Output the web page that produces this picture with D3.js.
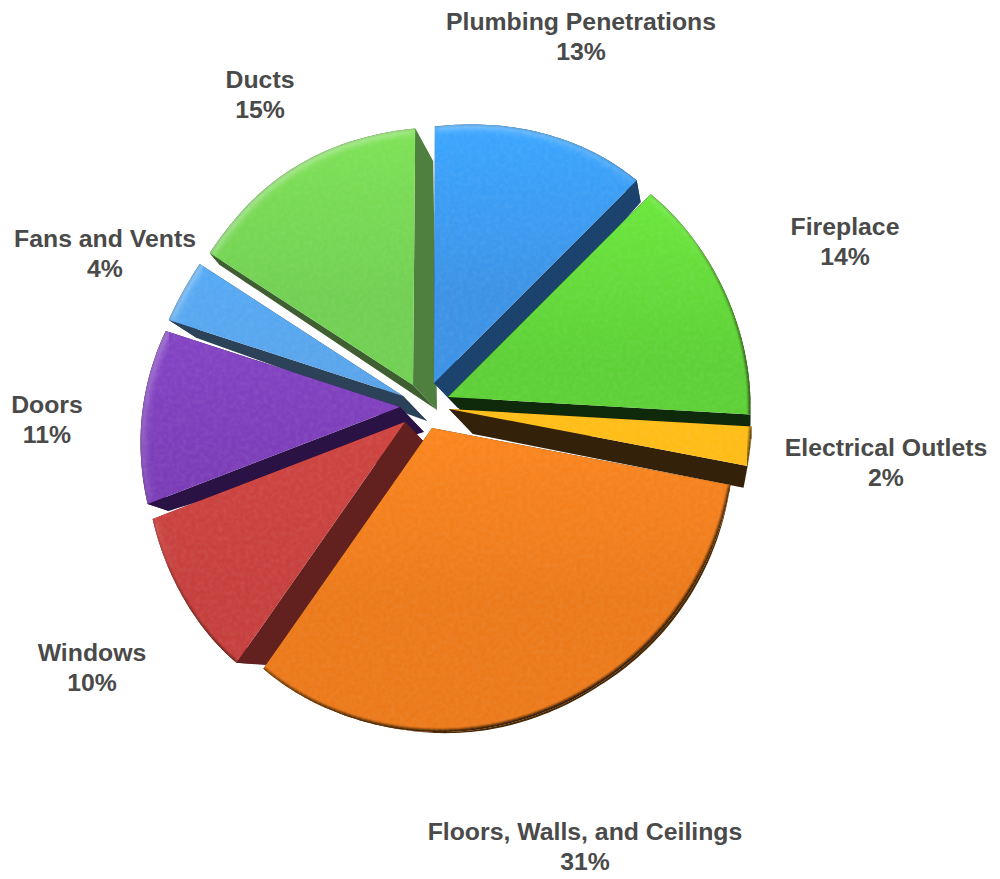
<!DOCTYPE html>
<html><head><meta charset="utf-8">
<script src="https://cdn.jsdelivr.net/npm/d3@7"></script>
<style>html,body{margin:0;padding:0;background:#fff}svg{display:block}</style>
</head><body><svg id="c" width="1000" height="879"></svg>
<script>
const categories=["Plumbing Penetrations","Fireplace","Electrical Outlets","Floors, Walls, and Ceilings","Windows","Doors","Fans and Vents","Ducts"];
const shares=[13,14,2,31,10,11,4,15];
const topColors=["#3d93e6","#5ed037","#fdb714","#ec7a1b","#c6403e","#7a3cb6","#5da2e6","#72d053"];
const topLights=["#3aa6ff","#6be83c","#ffbe18","#fb861f","#cf4441","#8444c4","#55aaf5","#7ee256"];
const wallColors=["#1c426e","#0f2a0b","#33210a","#4a2a06","#62201f","#2a1245","#2c4258","#4f8040"];
const wallAlt={7:"#3f5f33"};
const apexX=[434,448,449,432,405,400,403,413];
const apexY=[383,397,409,428,422,407,396,385];
const labelX=[581,845,886,585,92,47,105,260];
const labelY=[30,235,456,840,661,413,247,88];
const drawOrder=[7,6,5,4,0,1,2,3];
const rimDepthScale=[1,1,1,0.35,1,1,1,1];

// measured rim of the tilted pie: true angle -> drawn angle, radius, depth offset
const warp=d3.scaleLinear().domain([0,46.8,97.2,104.4,216,252,291.6,306,360]).range([0.2,45,93.3,100.8,215,249,288,303,360.5]);
const radiusRaw=d3.scaleLinear().domain([-57,0,45,93,130,180,215,249,288,303,360,405]).range([240,255,287,303,306,305,296,272,248,240,255,287]);
const radius=t=>d3.mean(d3.range(-12,13,3),d=>radiusRaw(t+d>360?t+d-360:t+d));
const depthX=d3.scaleLinear().domain([0,46.8,97,104,150,216,252,291.6,306,360]).range([18,4,0,-4,3,30,21,28,10,18]);
const depthY=d3.scaleLinear().domain([0,46.8,97,104,150,216,252,291.6,306,360]).range([33,22,12,22,4,2,7,18,12,33]);
const apexDepth=[24,25];

const pie=d3.pie().sort(null).value(d=>d);
const arcs=pie(shares);
const deg=180/Math.PI;
const svg=d3.select("#c");
const defs=svg.append("defs");

const f=defs.append("filter").attr("id","grain").attr("x","0").attr("y","0").attr("width","100%").attr("height","100%").attr("color-interpolation-filters","sRGB");
f.append("feTurbulence").attr("type","fractalNoise").attr("baseFrequency",0.22).attr("numOctaves",2).attr("seed",4).attr("result","n");
f.append("feColorMatrix").attr("in","n").attr("type","matrix").attr("values","0 0 0 0 1  0 0 0 0 1  0 0 0 0 1  0.12 0 0 0 -0.04").attr("result","na");
f.append("feComposite").attr("in","na").attr("in2","SourceAlpha").attr("operator","in").attr("result","noise");
const m=f.append("feMerge");
m.append("feMergeNode").attr("in","SourceGraphic");
m.append("feMergeNode").attr("in","noise");
[["soft",3],["softer",1.1]].forEach(([id,sd])=>{
  defs.append("filter").attr("id",id).attr("x","-10%").attr("y","-10%").attr("width","120%").attr("height","120%")
    .append("feGaussianBlur").attr("stdDeviation",sd);
});

function pt(i,theta,t){
  const a=warp(theta)/deg;
  const r=radius(theta)*t;
  return [apexX[i]+r*Math.sin(a),apexY[i]-r*Math.cos(a)];
}
function low(i,theta,t){
  const p=pt(i,theta,t);
  const k=rimDepthScale[i];
  return [p[0]+apexDepth[0]+(depthX(theta)*k-apexDepth[0])*t,p[1]+apexDepth[1]+(depthY(theta)*k-apexDepth[1])*t];
}
const line=d3.line().curve(d3.curveLinear);
const g=svg.append("g");

drawOrder.forEach(i=>{
  const s=arcs[i].startAngle*deg,e=arcs[i].endAngle*deg;
  const steps=d3.range(s,e,1).concat([e]);
  const topFace=[pt(i,s,0),...steps.map(a=>pt(i,a,1))];
  const rimLow=steps.map(a=>low(i,a,1));
  const y0=d3.min(topFace,d=>d[1]);
  const lg=defs.append("linearGradient").attr("id","tg"+i).attr("gradientUnits","userSpaceOnUse")
    .attr("x1",0).attr("x2",0).attr("y1",y0).attr("y2",y0+170);
  lg.append("stop").attr("offset",0).attr("stop-color",topLights[i]);
  lg.append("stop").attr("offset",1).attr("stop-color",topColors[i]);
  defs.append("clipPath").attr("id","cp"+i).append("path").attr("d",line(topFace)+"Z");
  const sl=g.append("g").attr("class","slice");
  sl.append("path").attr("d",line([...steps.map(a=>pt(i,a,1)),...rimLow.slice().reverse()])+"Z").attr("fill",wallColors[i]);
  sl.append("path").attr("d",line([pt(i,s,0),pt(i,s,1),low(i,s,1),low(i,s,0)])+"Z").attr("fill",wallAlt[i]||wallColors[i]);
  sl.append("path").attr("d",line([pt(i,e,0),pt(i,e,1),low(i,e,1),low(i,e,0)])+"Z").attr("fill",wallColors[i]);
  sl.append("path").attr("d",line(topFace)+"Z").attr("fill","url(#tg"+i+")").attr("filter","url(#grain)");
  // rim shading, lit from the upper left
  const rimG=sl.append("g").attr("clip-path","url(#cp"+i+")");
  const hi=rimG.append("g").attr("filter","url(#soft)");
  const lo=rimG.append("g").attr("filter","url(#softer)");
  d3.pairs(steps).forEach(([a,b])=>{
    const mid=warp((a+b)/2)/deg;
    const dot=Math.sin(mid)*0.5-Math.cos(mid)*0.85; // outward normal against the shadow direction
    const seg=line([pt(i,a,1),pt(i,b,1)]);
    if(dot<0.15) hi.append("path").attr("d",seg).attr("fill","none").attr("stroke","#fff").attr("stroke-linecap","round").attr("stroke-width",10).attr("stroke-opacity",0.14*(0.15-dot));
    lo.append("path").attr("d",seg).attr("fill","none").attr("stroke","#1a1208").attr("stroke-linecap","round").attr("stroke-width",dot>0?2.5+dot*3:1.4).attr("stroke-opacity",dot>0?0.22+0.5*dot:0.22);
  });
});

const lab=svg.append("g").attr("font-family","'Liberation Sans',Arial,sans-serif").attr("font-weight",700).attr("font-size",24.8).attr("fill","#4a4a4a").attr("text-anchor","middle");
categories.forEach((c,i)=>{
  lab.append("text").attr("x",labelX[i]).attr("y",labelY[i]).text(c);
  lab.append("text").attr("x",labelX[i]).attr("y",labelY[i]+29.5).text(shares[i]+"%");
});
</script></body></html>
